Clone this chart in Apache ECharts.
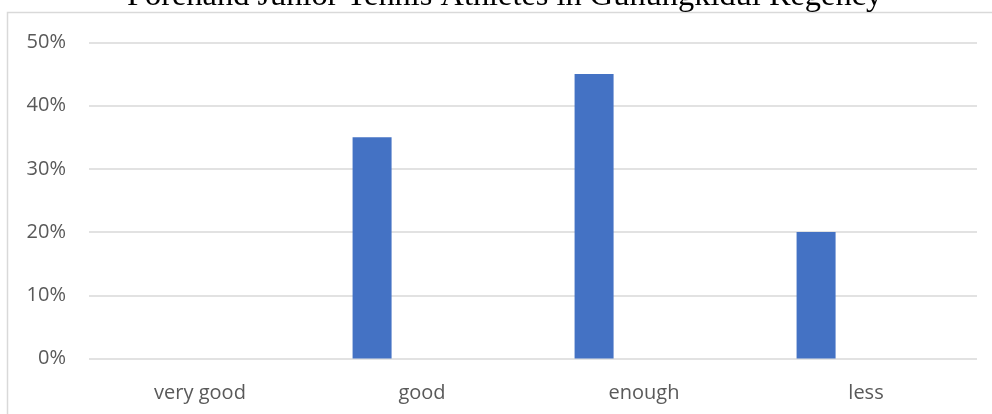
<!DOCTYPE html>
<html>
<head>
<meta charset="utf-8">
<script src="https://cdn.jsdelivr.net/npm/echarts@6/dist/echarts.min.js"></script>
<style>
html,body{margin:0;padding:0;background:#fff;}
#chart{width:992px;height:414px;}
</style>
</head>
<body>
<div id="chart"></div>
<script>
const titleText = 'Forehand Junior Tennis Athletes in Gunungkidul Regency';
const categories = ['very good', 'good', 'enough', 'less'];
const percentValues = [0, 35, 45, 20];
const emptySeries = [null, null, null, null];
const yTicks = [0, 10, 20, 30, 40, 50];

const chart = echarts.init(document.getElementById('chart'), null, {renderer: 'canvas'});
chart.setOption({
  animation: false,
  backgroundColor: '#ffffff',
  title: {
    text: titleText,
    left: 127,
    top: -20,
    padding: 0,
    textStyle: {fontFamily: 'Liberation Serif', fontSize: 32.4, fontWeight: 'normal', color: '#000000'}
  },
  graphic: [{
    type: 'rect',
    z: -1,
    shape: {x: 7.5, y: 12.5, width: 1000, height: 500},
    style: {fill: null, stroke: '#d9d9d9', lineWidth: 1.5}
  }],
  grid: {left: 89, right: 15, top: 42.5, bottom: 55.5, containLabel: false},
  xAxis: {
    type: 'category',
    data: categories,
    axisLine: {show: false},
    axisTick: {show: false},
    axisLabel: {fontFamily: 'Open Sans', fontSize: 20, color: '#595959', margin: 25}
  },
  yAxis: {
    type: 'value',
    min: yTicks[0],
    max: yTicks[yTicks.length - 1],
    interval: 10,
    axisLine: {show: false},
    axisTick: {show: false},
    splitLine: {lineStyle: {color: '#d9d9d9', width: 1.5}},
    axisLabel: {fontFamily: 'Open Sans', fontSize: 20, color: '#595959', margin: 23, formatter: '{value}%'}
  },
  series: [
    {type: 'bar', data: percentValues, barWidth: 39, barGap: '156%', itemStyle: {color: '#4472C4'}},
    {type: 'bar', data: emptySeries, barWidth: 39, itemStyle: {color: '#ED7D31'}}
  ]
});
</script>
</body>
</html>
